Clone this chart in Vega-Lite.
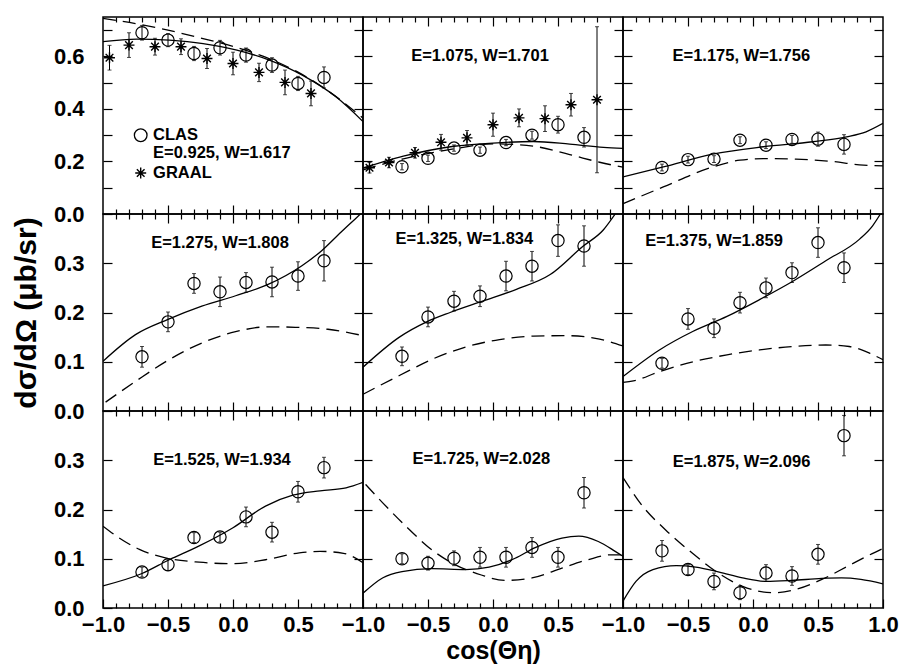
{
"$schema": "https://vega.github.io/schema/vega-lite/v6.json",
"padding": {"left": 10, "top": 15, "right": 5, "bottom": 0},
"background": "white",
"config": {
 "view": {"stroke": "black", "strokeWidth": 1.5},
 "axis": {"domain": false, "grid": false, "ticks": true, "tickColor": "black", "tickWidth": 1.2,
  "labelFont": "Liberation Sans", "labelFontSize": 22, "labelFontWeight": "bold", "labelColor": "black",
  "labelFlush": false, "labelOverlap": false, "labelBound": false,
  "titleFont": "Liberation Sans", "titleFontSize": 30, "titleFontWeight": "bold", "titleColor": "black"},
 "text": {"font": "Liberation Sans", "fontWeight": "bold", "fontSize": 16.5, "color": "black"}
},
"datasets": {
 "curves": [
  {"p":1,"m":"A","c":-1,"v":0.656},{"p":1,"m":"A","c":-0.74,"v":0.666},{"p":1,"m":"A","c":-0.49,"v":0.662},{"p":1,"m":"A","c":-0.23,"v":0.649},{"p":1,"m":"A","c":0.03,"v":0.624},{"p":1,"m":"A","c":0.28,"v":0.586},{"p":1,"m":"A","c":0.54,"v":0.527},{"p":1,"m":"A","c":0.79,"v":0.447},{"p":1,"m":"A","c":1,"v":0.352},
  {"p":1,"m":"B","c":-1,"v":0.745},{"p":1,"m":"B","c":-0.75,"v":0.725},{"p":1,"m":"B","c":-0.5,"v":0.7},{"p":1,"m":"B","c":-0.25,"v":0.67},{"p":1,"m":"B","c":0,"v":0.638},{"p":1,"m":"B","c":0.25,"v":0.597},{"p":1,"m":"B","c":0.5,"v":0.54},{"p":1,"m":"B","c":0.75,"v":0.462},{"p":1,"m":"B","c":1,"v":0.365},
  {"p":2,"m":"A","c":-1,"v":0.175},{"p":2,"m":"A","c":-0.69,"v":0.22},{"p":2,"m":"A","c":-0.3,"v":0.258},{"p":2,"m":"A","c":0,"v":0.27},{"p":2,"m":"A","c":0.31,"v":0.276},{"p":2,"m":"A","c":0.59,"v":0.266},{"p":2,"m":"A","c":0.85,"v":0.254},{"p":2,"m":"A","c":1,"v":0.25},
  {"p":2,"m":"B","c":-1,"v":0.168},{"p":2,"m":"B","c":-0.69,"v":0.21},{"p":2,"m":"B","c":-0.3,"v":0.248},{"p":2,"m":"B","c":0,"v":0.267},{"p":2,"m":"B","c":0.31,"v":0.258},{"p":2,"m":"B","c":0.59,"v":0.226},{"p":2,"m":"B","c":0.82,"v":0.197},{"p":2,"m":"B","c":1,"v":0.178},
  {"p":3,"m":"A","c":-1,"v":0.141},{"p":3,"m":"A","c":-0.69,"v":0.179},{"p":3,"m":"A","c":-0.31,"v":0.228},{"p":3,"m":"A","c":0.08,"v":0.256},{"p":3,"m":"A","c":0.46,"v":0.275},{"p":3,"m":"A","c":0.72,"v":0.294},{"p":3,"m":"A","c":0.87,"v":0.313},{"p":3,"m":"A","c":1,"v":0.345},
  {"p":3,"m":"B","c":-1,"v":0.039},{"p":3,"m":"B","c":-0.69,"v":0.103},{"p":3,"m":"B","c":-0.31,"v":0.179},{"p":3,"m":"B","c":-0.1,"v":0.205},{"p":3,"m":"B","c":0.08,"v":0.211},{"p":3,"m":"B","c":0.33,"v":0.209},{"p":3,"m":"B","c":0.59,"v":0.201},{"p":3,"m":"B","c":0.85,"v":0.186},{"p":3,"m":"B","c":1,"v":0.183},
  {"p":4,"m":"A","c":-1,"v":0.101},{"p":4,"m":"A","c":-0.75,"v":0.155},{"p":4,"m":"A","c":-0.5,"v":0.186},{"p":4,"m":"A","c":-0.24,"v":0.213},{"p":4,"m":"A","c":0.02,"v":0.234},{"p":4,"m":"A","c":0.27,"v":0.257},{"p":4,"m":"A","c":0.53,"v":0.295},{"p":4,"m":"A","c":0.68,"v":0.325},{"p":4,"m":"A","c":0.83,"v":0.363},{"p":4,"m":"A","c":0.94,"v":0.39},{"p":4,"m":"A","c":0.98,"v":0.4},
  {"p":4,"m":"B","c":-0.98,"v":0.018},{"p":4,"m":"B","c":-0.75,"v":0.06},{"p":4,"m":"B","c":-0.5,"v":0.103},{"p":4,"m":"B","c":-0.24,"v":0.138},{"p":4,"m":"B","c":0.02,"v":0.161},{"p":4,"m":"B","c":0.27,"v":0.171},{"p":4,"m":"B","c":0.48,"v":0.17},{"p":4,"m":"B","c":0.73,"v":0.166},{"p":4,"m":"B","c":1,"v":0.153},
  {"p":5,"m":"A","c":-1,"v":0.089},{"p":5,"m":"A","c":-0.72,"v":0.15},{"p":5,"m":"A","c":-0.51,"v":0.181},{"p":5,"m":"A","c":-0.33,"v":0.2},{"p":5,"m":"A","c":-0.08,"v":0.223},{"p":5,"m":"A","c":0.18,"v":0.247},{"p":5,"m":"A","c":0.44,"v":0.277},{"p":5,"m":"A","c":0.69,"v":0.334},{"p":5,"m":"A","c":0.85,"v":0.368},{"p":5,"m":"A","c":0.94,"v":0.4},
  {"p":5,"m":"B","c":-1,"v":0.034},{"p":5,"m":"B","c":-0.72,"v":0.072},{"p":5,"m":"B","c":-0.46,"v":0.106},{"p":5,"m":"B","c":-0.21,"v":0.13},{"p":5,"m":"B","c":0.05,"v":0.145},{"p":5,"m":"B","c":0.31,"v":0.152},{"p":5,"m":"B","c":0.56,"v":0.153},{"p":5,"m":"B","c":0.82,"v":0.146},{"p":5,"m":"B","c":1,"v":0.132},
  {"p":6,"m":"A","c":-1,"v":0.07},{"p":6,"m":"A","c":-0.72,"v":0.124},{"p":6,"m":"A","c":-0.46,"v":0.162},{"p":6,"m":"A","c":-0.2,"v":0.192},{"p":6,"m":"A","c":0.05,"v":0.226},{"p":6,"m":"A","c":0.31,"v":0.264},{"p":6,"m":"A","c":0.56,"v":0.305},{"p":6,"m":"A","c":0.82,"v":0.349},{"p":6,"m":"A","c":0.92,"v":0.376},{"p":6,"m":"A","c":0.98,"v":0.4},
  {"p":6,"m":"B","c":-1,"v":0.058},{"p":6,"m":"B","c":-0.92,"v":0.061},{"p":6,"m":"B","c":-0.72,"v":0.08},{"p":6,"m":"B","c":-0.46,"v":0.1},{"p":6,"m":"B","c":-0.2,"v":0.114},{"p":6,"m":"B","c":0.05,"v":0.124},{"p":6,"m":"B","c":0.31,"v":0.131},{"p":6,"m":"B","c":0.56,"v":0.134},{"p":6,"m":"B","c":0.74,"v":0.131},{"p":6,"m":"B","c":0.9,"v":0.117},{"p":6,"m":"B","c":1,"v":0.104},
  {"p":7,"m":"A","c":-1,"v":0.045},{"p":7,"m":"A","c":-0.7,"v":0.07},{"p":7,"m":"A","c":-0.49,"v":0.098},{"p":7,"m":"A","c":-0.26,"v":0.126},{"p":7,"m":"A","c":0,"v":0.163},{"p":7,"m":"A","c":0.25,"v":0.207},{"p":7,"m":"A","c":0.46,"v":0.229},{"p":7,"m":"A","c":0.67,"v":0.238},{"p":7,"m":"A","c":0.87,"v":0.244},{"p":7,"m":"A","c":1,"v":0.255},
  {"p":7,"m":"B","c":-1,"v":0.166},{"p":7,"m":"B","c":-0.88,"v":0.143},{"p":7,"m":"B","c":-0.72,"v":0.119},{"p":7,"m":"B","c":-0.52,"v":0.102},{"p":7,"m":"B","c":-0.26,"v":0.093},{"p":7,"m":"B","c":0,"v":0.09},{"p":7,"m":"B","c":0.25,"v":0.098},{"p":7,"m":"B","c":0.51,"v":0.112},{"p":7,"m":"B","c":0.67,"v":0.115},{"p":7,"m":"B","c":0.85,"v":0.111},{"p":7,"m":"B","c":1,"v":0.092},
  {"p":8,"m":"A","c":-1,"v":0.03},{"p":8,"m":"A","c":-0.85,"v":0.061},{"p":8,"m":"A","c":-0.7,"v":0.074},{"p":8,"m":"A","c":-0.47,"v":0.08},{"p":8,"m":"A","c":-0.21,"v":0.078},{"p":8,"m":"A","c":-0.03,"v":0.083},{"p":8,"m":"A","c":0.17,"v":0.101},{"p":8,"m":"A","c":0.32,"v":0.122},{"p":8,"m":"A","c":0.53,"v":0.142},{"p":8,"m":"A","c":0.66,"v":0.146},{"p":8,"m":"A","c":0.81,"v":0.135},{"p":8,"m":"A","c":0.94,"v":0.115},{"p":8,"m":"A","c":1,"v":0.105},
  {"p":8,"m":"B","c":-0.98,"v":0.251},{"p":8,"m":"B","c":-0.85,"v":0.214},{"p":8,"m":"B","c":-0.67,"v":0.166},{"p":8,"m":"B","c":-0.47,"v":0.118},{"p":8,"m":"B","c":-0.34,"v":0.095},{"p":8,"m":"B","c":-0.09,"v":0.067},{"p":8,"m":"B","c":0.09,"v":0.056},{"p":8,"m":"B","c":0.3,"v":0.061},{"p":8,"m":"B","c":0.53,"v":0.081},{"p":8,"m":"B","c":0.73,"v":0.098},{"p":8,"m":"B","c":0.91,"v":0.108},{"p":8,"m":"B","c":1,"v":0.108},
  {"p":9,"m":"A","c":-1,"v":0.014},{"p":9,"m":"A","c":-0.9,"v":0.054},{"p":9,"m":"A","c":-0.77,"v":0.078},{"p":9,"m":"A","c":-0.59,"v":0.086},{"p":9,"m":"A","c":-0.44,"v":0.083},{"p":9,"m":"A","c":-0.26,"v":0.073},{"p":9,"m":"A","c":-0.08,"v":0.061},{"p":9,"m":"A","c":0.1,"v":0.054},{"p":9,"m":"A","c":0.3,"v":0.056},{"p":9,"m":"A","c":0.53,"v":0.06},{"p":9,"m":"A","c":0.68,"v":0.061},{"p":9,"m":"A","c":0.83,"v":0.058},{"p":9,"m":"A","c":1,"v":0.049},
  {"p":9,"m":"B","c":-1,"v":0.265},{"p":9,"m":"B","c":-0.85,"v":0.207},{"p":9,"m":"B","c":-0.67,"v":0.158},{"p":9,"m":"B","c":-0.47,"v":0.112},{"p":9,"m":"B","c":-0.29,"v":0.075},{"p":9,"m":"B","c":-0.08,"v":0.044},{"p":9,"m":"B","c":0.15,"v":0.031},{"p":9,"m":"B","c":0.32,"v":0.037},{"p":9,"m":"B","c":0.53,"v":0.058},{"p":9,"m":"B","c":0.73,"v":0.085},{"p":9,"m":"B","c":0.89,"v":0.107},{"p":9,"m":"B","c":1,"v":0.121}
 ],
 "clas": [
  {"p":1,"c":-0.7,"v":0.69,"e":0.028},{"p":1,"c":-0.5,"v":0.662,"e":0.025},{"p":1,"c":-0.3,"v":0.611,"e":0.027},{"p":1,"c":-0.1,"v":0.633,"e":0.028},{"p":1,"c":0.1,"v":0.605,"e":0.027},{"p":1,"c":0.3,"v":0.567,"e":0.028},{"p":1,"c":0.5,"v":0.497,"e":0.027},{"p":1,"c":0.7,"v":0.52,"e":0.04},
  {"p":2,"c":-0.7,"v":0.18,"e":0.012},{"p":2,"c":-0.5,"v":0.212,"e":0.012},{"p":2,"c":-0.3,"v":0.251,"e":0.012},{"p":2,"c":-0.1,"v":0.243,"e":0.012},{"p":2,"c":0.1,"v":0.272,"e":0.012},{"p":2,"c":0.3,"v":0.3,"e":0.015},{"p":2,"c":0.5,"v":0.34,"e":0.032},{"p":2,"c":0.7,"v":0.292,"e":0.037},
  {"p":3,"c":-0.7,"v":0.177,"e":0.013},{"p":3,"c":-0.5,"v":0.207,"e":0.013},{"p":3,"c":-0.3,"v":0.209,"e":0.013},{"p":3,"c":-0.1,"v":0.281,"e":0.013},{"p":3,"c":0.1,"v":0.262,"e":0.013},{"p":3,"c":0.3,"v":0.284,"e":0.015},{"p":3,"c":0.5,"v":0.285,"e":0.027},{"p":3,"c":0.7,"v":0.265,"e":0.037},
  {"p":4,"c":-0.7,"v":0.11,"e":0.021},{"p":4,"c":-0.5,"v":0.181,"e":0.02},{"p":4,"c":-0.3,"v":0.259,"e":0.02},{"p":4,"c":-0.1,"v":0.242,"e":0.03},{"p":4,"c":0.1,"v":0.261,"e":0.02},{"p":4,"c":0.3,"v":0.262,"e":0.03},{"p":4,"c":0.5,"v":0.274,"e":0.029},{"p":4,"c":0.7,"v":0.305,"e":0.041},
  {"p":5,"c":-0.7,"v":0.111,"e":0.019},{"p":5,"c":-0.5,"v":0.191,"e":0.02},{"p":5,"c":-0.3,"v":0.223,"e":0.02},{"p":5,"c":-0.1,"v":0.233,"e":0.021},{"p":5,"c":0.1,"v":0.274,"e":0.03},{"p":5,"c":0.3,"v":0.294,"e":0.03},{"p":5,"c":0.5,"v":0.346,"e":0.032},{"p":5,"c":0.7,"v":0.335,"e":0.041},
  {"p":6,"c":-0.7,"v":0.097,"e":0.01},{"p":6,"c":-0.5,"v":0.187,"e":0.021},{"p":6,"c":-0.3,"v":0.168,"e":0.019},{"p":6,"c":-0.1,"v":0.22,"e":0.021},{"p":6,"c":0.1,"v":0.25,"e":0.02},{"p":6,"c":0.3,"v":0.281,"e":0.02},{"p":6,"c":0.5,"v":0.342,"e":0.03},{"p":6,"c":0.7,"v":0.291,"e":0.03},
  {"p":7,"c":-0.7,"v":0.073,"e":0.01},{"p":7,"c":-0.5,"v":0.088,"e":0.012},{"p":7,"c":-0.3,"v":0.143,"e":0.01},{"p":7,"c":-0.1,"v":0.144,"e":0.01},{"p":7,"c":0.1,"v":0.185,"e":0.02},{"p":7,"c":0.3,"v":0.154,"e":0.02},{"p":7,"c":0.5,"v":0.236,"e":0.021},{"p":7,"c":0.7,"v":0.285,"e":0.021},
  {"p":8,"c":-0.7,"v":0.1,"e":0.01},{"p":8,"c":-0.5,"v":0.091,"e":0.014},{"p":8,"c":-0.3,"v":0.101,"e":0.015},{"p":8,"c":-0.1,"v":0.103,"e":0.02},{"p":8,"c":0.1,"v":0.103,"e":0.02},{"p":8,"c":0.3,"v":0.123,"e":0.02},{"p":8,"c":0.5,"v":0.103,"e":0.02},{"p":8,"c":0.7,"v":0.234,"e":0.031},
  {"p":9,"c":-0.7,"v":0.116,"e":0.021},{"p":9,"c":-0.5,"v":0.078,"e":0.01},{"p":9,"c":-0.3,"v":0.054,"e":0.017},{"p":9,"c":-0.1,"v":0.031,"e":0.014},{"p":9,"c":0.1,"v":0.071,"e":0.017},{"p":9,"c":0.3,"v":0.065,"e":0.019},{"p":9,"c":0.5,"v":0.109,"e":0.02},{"p":9,"c":0.7,"v":0.35,"e":0.041}
 ],
 "graal": [
  {"p":1,"c":-0.95,"v":0.595,"e":0.047},{"p":1,"c":-0.8,"v":0.643,"e":0.047},{"p":1,"c":-0.6,"v":0.637,"e":0.032},{"p":1,"c":-0.4,"v":0.637,"e":0.03},{"p":1,"c":-0.2,"v":0.592,"e":0.038},{"p":1,"c":0,"v":0.573,"e":0.043},{"p":1,"c":0.2,"v":0.539,"e":0.035},{"p":1,"c":0.4,"v":0.501,"e":0.047},{"p":1,"c":0.6,"v":0.459,"e":0.047},
  {"p":2,"c":-0.95,"v":0.176,"e":0.02},{"p":2,"c":-0.8,"v":0.196,"e":0.02},{"p":2,"c":-0.6,"v":0.233,"e":0.02},{"p":2,"c":-0.4,"v":0.273,"e":0.03},{"p":2,"c":-0.2,"v":0.29,"e":0.028},{"p":2,"c":0,"v":0.34,"e":0.044},{"p":2,"c":0.2,"v":0.366,"e":0.034},{"p":2,"c":0.4,"v":0.363,"e":0.049},{"p":2,"c":0.6,"v":0.416,"e":0.043},{"p":2,"c":0.8,"v":0.435,"e":0.278}
 ],
 "labels": [
  {"p":1,"t":"E=0.925, W=1.617"},{"p":2,"t":"E=1.075, W=1.701"},{"p":3,"t":"E=1.175, W=1.756"},
  {"p":4,"t":"E=1.275, W=1.808"},{"p":5,"t":"E=1.325, W=1.834"},{"p":6,"t":"E=1.375, W=1.859"},
  {"p":7,"t":"E=1.525, W=1.934"},{"p":8,"t":"E=1.725, W=2.028"},{"p":9,"t":"E=1.875, W=2.096"}
 ],
 "legend": [{"k":"CLAS"},{"k":"GRAAL"}]
},
"concat": [
 {"width":260,"height":197,"layer":[
  {"data":{"name":"curves"},"transform":[{"filter":"datum.p==1 && datum.m=='A'"}],"mark":{"type":"line","color":"black","strokeWidth":1.3,"interpolate":"monotone","clip":true},
   "encoding":{"x":{"field":"c","type":"quantitative","scale":{"domain":[-1,1],"nice":false,"zero":false},"axis":{"orient":"bottom","values":[-0.5,0,0.5],"tickSize":-9,"labels":false,"title":null}},
    "y":{"field":"v","type":"quantitative","scale":{"domain":[0,0.75],"nice":false,"zero":false},"axis":{"orient":"left","values":[0,0.1,0.2,0.3,0.4,0.5,0.6,0.7],"format":".1f","labelExpr":"indexof(['0.0','0.2','0.4','0.6'], datum.label) >= 0 ? datum.label : ''","tickSize":-9,"labelPadding":28,"title":null}}}},
  {"data":{"name":"curves"},"transform":[{"filter":"datum.p==1 && datum.m=='B'"}],"mark":{"type":"line","color":"black","strokeWidth":1.3,"strokeDash":[13,7],"interpolate":"monotone","clip":true},
   "encoding":{"x":{"field":"c","type":"quantitative","scale":{"domain":[-1,1],"nice":false,"zero":false},"axis":{"orient":"top","values":[-0.5,0,0.5],"tickSize":-9,"labels":false,"title":null}},
    "y":{"field":"v","type":"quantitative","scale":{"domain":[0,0.75],"nice":false,"zero":false},"axis":{"orient":"right","values":[0.1,0.2,0.3,0.4,0.5,0.6,0.7],"tickSize":-9,"labels":false,"title":null}}}},
  {"data":{"name":"clas"},"transform":[{"filter":"datum.p==1"}],"mark":{"type":"errorbar","color":"black","thickness":1,"ticks":true,"size":4},
   "encoding":{"x":{"field":"c","type":"quantitative","scale":{"domain":[-1,1],"nice":false,"zero":false},"axis":{"orient":"bottom","values":[-0.9,-0.8,-0.7,-0.6,-0.4,-0.3,-0.2,-0.1,0.1,0.2,0.3,0.4,0.6,0.7,0.8,0.9],"tickSize":-5,"labels":false,"title":null}},
    "y":{"field":"v","type":"quantitative","scale":{"domain":[0,0.75],"nice":false,"zero":false},"axis":null},"yError":{"field":"e"}}},
  {"data":{"name":"clas"},"transform":[{"filter":"datum.p==1"}],"mark":{"type":"point","shape":"circle","filled":false,"size":150,"stroke":"black","strokeWidth":1.2,"opacity":1},
   "encoding":{"x":{"field":"c","type":"quantitative","scale":{"domain":[-1,1],"nice":false,"zero":false},"axis":{"orient":"top","values":[-0.9,-0.8,-0.7,-0.6,-0.4,-0.3,-0.2,-0.1,0.1,0.2,0.3,0.4,0.6,0.7,0.8,0.9],"tickSize":-5,"labels":false,"title":null}},
    "y":{"field":"v","type":"quantitative","scale":{"domain":[0,0.75],"nice":false,"zero":false},"axis":null}}},
  {"data":{"name":"graal"},"transform":[{"filter":"datum.p==1"}],"mark":{"type":"errorbar","color":"black","thickness":1,"ticks":true,"size":4},
   "encoding":{"x":{"field":"c","type":"quantitative","scale":{"domain":[-1,1],"nice":false,"zero":false},"axis":null},
    "y":{"field":"v","type":"quantitative","scale":{"domain":[0,0.75],"nice":false,"zero":false},"axis":null},"yError":{"field":"e"}}},
  {"data":{"name":"graal"},"transform":[{"filter":"datum.p==1"}],"mark":{"type":"point","shape":"M0,-1L0,1M-1,0L1,0M-0.7,-0.7L0.7,0.7M-0.7,0.7L0.7,-0.7","filled":false,"size":120,"stroke":"black","strokeWidth":1.4,"opacity":1},
   "encoding":{"x":{"field":"c","type":"quantitative","scale":{"domain":[-1,1],"nice":false,"zero":false},"axis":null},
    "y":{"field":"v","type":"quantitative","scale":{"domain":[0,0.75],"nice":false,"zero":false},"axis":null}}},
  {"data":{"name":"labels"},"transform":[{"filter":"datum.p==1"}],"mark":{"type":"text","align":"left","baseline":"middle"},
   "encoding":{"x":{"datum":-0.615,"type":"quantitative","scale":{"domain":[-1,1],"nice":false,"zero":false},"axis":null},"y":{"datum":0.232,"type":"quantitative","scale":{"domain":[0,0.75],"nice":false,"zero":false},"axis":null},"text":{"field":"t"}}},
  {"data":{"name":"legend"},"transform":[{"filter":"datum.k=='CLAS'"}],"mark":{"type":"text","align":"left","baseline":"middle"},
   "encoding":{"x":{"datum":-0.615,"type":"quantitative","scale":{"domain":[-1,1],"nice":false,"zero":false},"axis":null},"y":{"datum":0.3,"type":"quantitative","scale":{"domain":[0,0.75],"nice":false,"zero":false},"axis":null},"text":{"field":"k"}}},
  {"data":{"name":"legend"},"transform":[{"filter":"datum.k=='GRAAL'"}],"mark":{"type":"text","align":"left","baseline":"middle"},
   "encoding":{"x":{"datum":-0.615,"type":"quantitative","scale":{"domain":[-1,1],"nice":false,"zero":false},"axis":null},"y":{"datum":0.156,"type":"quantitative","scale":{"domain":[0,0.75],"nice":false,"zero":false},"axis":null},"text":{"field":"k"}}},
  {"data":{"name":"legend"},"transform":[{"filter":"datum.k=='CLAS'"}],"mark":{"type":"point","shape":"circle","filled":false,"size":160,"stroke":"black","strokeWidth":1.3,"opacity":1},
   "encoding":{"x":{"datum":-0.71,"type":"quantitative","scale":{"domain":[-1,1],"nice":false,"zero":false},"axis":null},"y":{"datum":0.3,"type":"quantitative","scale":{"domain":[0,0.75],"nice":false,"zero":false},"axis":null}}},
  {"data":{"name":"legend"},"transform":[{"filter":"datum.k=='GRAAL'"}],"mark":{"type":"point","shape":"M0,-1L0,1M-1,0L1,0M-0.7,-0.7L0.7,0.7M-0.7,0.7L0.7,-0.7","filled":false,"size":120,"stroke":"black","strokeWidth":1.4,"opacity":1},
   "encoding":{"x":{"datum":-0.71,"type":"quantitative","scale":{"domain":[-1,1],"nice":false,"zero":false},"axis":null},"y":{"datum":0.156,"type":"quantitative","scale":{"domain":[0,0.75],"nice":false,"zero":false},"axis":null}}}
 ],"resolve":{"axis":{"x":"independent","y":"independent"}}},

 {"width":260,"height":197,"layer":[
  {"data":{"name":"curves"},"transform":[{"filter":"datum.p==2 && datum.m=='A'"}],"mark":{"type":"line","color":"black","strokeWidth":1.3,"interpolate":"monotone","clip":true},
   "encoding":{"x":{"field":"c","type":"quantitative","scale":{"domain":[-1,1],"nice":false,"zero":false},"axis":{"orient":"bottom","values":[-0.5,0,0.5],"tickSize":-9,"labels":false,"title":null}},
    "y":{"field":"v","type":"quantitative","scale":{"domain":[0,0.75],"nice":false,"zero":false},"axis":{"orient":"left","values":[0.1,0.2,0.3,0.4,0.5,0.6,0.7],"tickSize":-9,"labels":false,"title":null}}}},
  {"data":{"name":"curves"},"transform":[{"filter":"datum.p==2 && datum.m=='B'"}],"mark":{"type":"line","color":"black","strokeWidth":1.3,"strokeDash":[13,7],"interpolate":"monotone","clip":true},
   "encoding":{"x":{"field":"c","type":"quantitative","scale":{"domain":[-1,1],"nice":false,"zero":false},"axis":{"orient":"top","values":[-0.5,0,0.5],"tickSize":-9,"labels":false,"title":null}},
    "y":{"field":"v","type":"quantitative","scale":{"domain":[0,0.75],"nice":false,"zero":false},"axis":{"orient":"right","values":[0.1,0.2,0.3,0.4,0.5,0.6,0.7],"tickSize":-9,"labels":false,"title":null}}}},
  {"data":{"name":"clas"},"transform":[{"filter":"datum.p==2"}],"mark":{"type":"errorbar","color":"black","thickness":1,"ticks":true,"size":4},
   "encoding":{"x":{"field":"c","type":"quantitative","scale":{"domain":[-1,1],"nice":false,"zero":false},"axis":{"orient":"bottom","values":[-0.9,-0.8,-0.7,-0.6,-0.4,-0.3,-0.2,-0.1,0.1,0.2,0.3,0.4,0.6,0.7,0.8,0.9],"tickSize":-5,"labels":false,"title":null}},
    "y":{"field":"v","type":"quantitative","scale":{"domain":[0,0.75],"nice":false,"zero":false},"axis":null},"yError":{"field":"e"}}},
  {"data":{"name":"clas"},"transform":[{"filter":"datum.p==2"}],"mark":{"type":"point","shape":"circle","filled":false,"size":150,"stroke":"black","strokeWidth":1.2,"opacity":1},
   "encoding":{"x":{"field":"c","type":"quantitative","scale":{"domain":[-1,1],"nice":false,"zero":false},"axis":{"orient":"top","values":[-0.9,-0.8,-0.7,-0.6,-0.4,-0.3,-0.2,-0.1,0.1,0.2,0.3,0.4,0.6,0.7,0.8,0.9],"tickSize":-5,"labels":false,"title":null}},
    "y":{"field":"v","type":"quantitative","scale":{"domain":[0,0.75],"nice":false,"zero":false},"axis":null}}},
  {"data":{"name":"graal"},"transform":[{"filter":"datum.p==2"}],"mark":{"type":"errorbar","color":"black","thickness":1,"ticks":true,"size":4},
   "encoding":{"x":{"field":"c","type":"quantitative","scale":{"domain":[-1,1],"nice":false,"zero":false},"axis":null},
    "y":{"field":"v","type":"quantitative","scale":{"domain":[0,0.75],"nice":false,"zero":false},"axis":null},"yError":{"field":"e"}}},
  {"data":{"name":"graal"},"transform":[{"filter":"datum.p==2"}],"mark":{"type":"point","shape":"M0,-1L0,1M-1,0L1,0M-0.7,-0.7L0.7,0.7M-0.7,0.7L0.7,-0.7","filled":false,"size":120,"stroke":"black","strokeWidth":1.4,"opacity":1},
   "encoding":{"x":{"field":"c","type":"quantitative","scale":{"domain":[-1,1],"nice":false,"zero":false},"axis":null},
    "y":{"field":"v","type":"quantitative","scale":{"domain":[0,0.75],"nice":false,"zero":false},"axis":null}}},
  {"data":{"name":"labels"},"transform":[{"filter":"datum.p==2"}],"mark":{"type":"text","align":"center","baseline":"middle"},
   "encoding":{"x":{"datum":-0.1,"type":"quantitative","scale":{"domain":[-1,1],"nice":false,"zero":false},"axis":null},"y":{"datum":0.6,"type":"quantitative","scale":{"domain":[0,0.75],"nice":false,"zero":false},"axis":null},"text":{"field":"t"}}}
 ],"resolve":{"axis":{"x":"independent","y":"independent"}}},

 {"width":260,"height":197,"layer":[
  {"data":{"name":"curves"},"transform":[{"filter":"datum.p==3 && datum.m=='A'"}],"mark":{"type":"line","color":"black","strokeWidth":1.3,"interpolate":"monotone","clip":true},
   "encoding":{"x":{"field":"c","type":"quantitative","scale":{"domain":[-1,1],"nice":false,"zero":false},"axis":{"orient":"bottom","values":[-0.5,0,0.5],"tickSize":-9,"labels":false,"title":null}},
    "y":{"field":"v","type":"quantitative","scale":{"domain":[0,0.75],"nice":false,"zero":false},"axis":{"orient":"left","values":[0.1,0.2,0.3,0.4,0.5,0.6,0.7],"tickSize":-9,"labels":false,"title":null}}}},
  {"data":{"name":"curves"},"transform":[{"filter":"datum.p==3 && datum.m=='B'"}],"mark":{"type":"line","color":"black","strokeWidth":1.3,"strokeDash":[13,7],"interpolate":"monotone","clip":true},
   "encoding":{"x":{"field":"c","type":"quantitative","scale":{"domain":[-1,1],"nice":false,"zero":false},"axis":{"orient":"top","values":[-0.5,0,0.5],"tickSize":-9,"labels":false,"title":null}},
    "y":{"field":"v","type":"quantitative","scale":{"domain":[0,0.75],"nice":false,"zero":false},"axis":{"orient":"right","values":[0.1,0.2,0.3,0.4,0.5,0.6,0.7],"tickSize":-9,"labels":false,"title":null}}}},
  {"data":{"name":"clas"},"transform":[{"filter":"datum.p==3"}],"mark":{"type":"errorbar","color":"black","thickness":1,"ticks":true,"size":4},
   "encoding":{"x":{"field":"c","type":"quantitative","scale":{"domain":[-1,1],"nice":false,"zero":false},"axis":{"orient":"bottom","values":[-0.9,-0.8,-0.7,-0.6,-0.4,-0.3,-0.2,-0.1,0.1,0.2,0.3,0.4,0.6,0.7,0.8,0.9],"tickSize":-5,"labels":false,"title":null}},
    "y":{"field":"v","type":"quantitative","scale":{"domain":[0,0.75],"nice":false,"zero":false},"axis":null},"yError":{"field":"e"}}},
  {"data":{"name":"clas"},"transform":[{"filter":"datum.p==3"}],"mark":{"type":"point","shape":"circle","filled":false,"size":150,"stroke":"black","strokeWidth":1.2,"opacity":1},
   "encoding":{"x":{"field":"c","type":"quantitative","scale":{"domain":[-1,1],"nice":false,"zero":false},"axis":{"orient":"top","values":[-0.9,-0.8,-0.7,-0.6,-0.4,-0.3,-0.2,-0.1,0.1,0.2,0.3,0.4,0.6,0.7,0.8,0.9],"tickSize":-5,"labels":false,"title":null}},
    "y":{"field":"v","type":"quantitative","scale":{"domain":[0,0.75],"nice":false,"zero":false},"axis":null}}},
  {"data":{"name":"labels"},"transform":[{"filter":"datum.p==3"}],"mark":{"type":"text","align":"center","baseline":"middle"},
   "encoding":{"x":{"datum":-0.09,"type":"quantitative","scale":{"domain":[-1,1],"nice":false,"zero":false},"axis":null},"y":{"datum":0.6,"type":"quantitative","scale":{"domain":[0,0.75],"nice":false,"zero":false},"axis":null},"text":{"field":"t"}}}
 ],"resolve":{"axis":{"x":"independent","y":"independent"}}},

 {"width":260,"height":197,"layer":[
  {"data":{"name":"curves"},"transform":[{"filter":"datum.p==4 && datum.m=='A'"}],"mark":{"type":"line","color":"black","strokeWidth":1.3,"interpolate":"monotone","clip":true},
   "encoding":{"x":{"field":"c","type":"quantitative","scale":{"domain":[-1,1],"nice":false,"zero":false},"axis":{"orient":"bottom","values":[-0.5,0,0.5],"tickSize":-9,"labels":false,"title":null}},
    "y":{"field":"v","type":"quantitative","scale":{"domain":[0,0.4],"nice":false,"zero":false},"axis":{"orient":"left","values":[0,0.1,0.2,0.3],"format":".1f","tickSize":-9,"labelPadding":28,"title":"dσ/dΩ (μb/sr)","titlePadding":12}}}},
  {"data":{"name":"curves"},"transform":[{"filter":"datum.p==4 && datum.m=='B'"}],"mark":{"type":"line","color":"black","strokeWidth":1.3,"strokeDash":[13,7],"interpolate":"monotone","clip":true},
   "encoding":{"x":{"field":"c","type":"quantitative","scale":{"domain":[-1,1],"nice":false,"zero":false},"axis":{"orient":"top","values":[-0.5,0,0.5],"tickSize":-9,"labels":false,"title":null}},
    "y":{"field":"v","type":"quantitative","scale":{"domain":[0,0.4],"nice":false,"zero":false},"axis":{"orient":"right","values":[0.1,0.2,0.3],"tickSize":-9,"labels":false,"title":null}}}},
  {"data":{"name":"clas"},"transform":[{"filter":"datum.p==4"}],"mark":{"type":"errorbar","color":"black","thickness":1,"ticks":true,"size":4},
   "encoding":{"x":{"field":"c","type":"quantitative","scale":{"domain":[-1,1],"nice":false,"zero":false},"axis":{"orient":"bottom","values":[-0.9,-0.8,-0.7,-0.6,-0.4,-0.3,-0.2,-0.1,0.1,0.2,0.3,0.4,0.6,0.7,0.8,0.9],"tickSize":-5,"labels":false,"title":null}},
    "y":{"field":"v","type":"quantitative","scale":{"domain":[0,0.4],"nice":false,"zero":false},"axis":null},"yError":{"field":"e"}}},
  {"data":{"name":"clas"},"transform":[{"filter":"datum.p==4"}],"mark":{"type":"point","shape":"circle","filled":false,"size":150,"stroke":"black","strokeWidth":1.2,"opacity":1},
   "encoding":{"x":{"field":"c","type":"quantitative","scale":{"domain":[-1,1],"nice":false,"zero":false},"axis":{"orient":"top","values":[-0.9,-0.8,-0.7,-0.6,-0.4,-0.3,-0.2,-0.1,0.1,0.2,0.3,0.4,0.6,0.7,0.8,0.9],"tickSize":-5,"labels":false,"title":null}},
    "y":{"field":"v","type":"quantitative","scale":{"domain":[0,0.4],"nice":false,"zero":false},"axis":null}}},
  {"data":{"name":"labels"},"transform":[{"filter":"datum.p==4"}],"mark":{"type":"text","align":"center","baseline":"middle"},
   "encoding":{"x":{"datum":-0.1,"type":"quantitative","scale":{"domain":[-1,1],"nice":false,"zero":false},"axis":null},"y":{"datum":0.342,"type":"quantitative","scale":{"domain":[0,0.4],"nice":false,"zero":false},"axis":null},"text":{"field":"t"}}}
 ],"resolve":{"axis":{"x":"independent","y":"independent"}}},

 {"width":260,"height":197,"layer":[
  {"data":{"name":"curves"},"transform":[{"filter":"datum.p==5 && datum.m=='A'"}],"mark":{"type":"line","color":"black","strokeWidth":1.3,"interpolate":"monotone","clip":true},
   "encoding":{"x":{"field":"c","type":"quantitative","scale":{"domain":[-1,1],"nice":false,"zero":false},"axis":{"orient":"bottom","values":[-0.5,0,0.5],"tickSize":-9,"labels":false,"title":null}},
    "y":{"field":"v","type":"quantitative","scale":{"domain":[0,0.4],"nice":false,"zero":false},"axis":{"orient":"left","values":[0.1,0.2,0.3],"tickSize":-9,"labels":false,"title":null}}}},
  {"data":{"name":"curves"},"transform":[{"filter":"datum.p==5 && datum.m=='B'"}],"mark":{"type":"line","color":"black","strokeWidth":1.3,"strokeDash":[13,7],"interpolate":"monotone","clip":true},
   "encoding":{"x":{"field":"c","type":"quantitative","scale":{"domain":[-1,1],"nice":false,"zero":false},"axis":{"orient":"top","values":[-0.5,0,0.5],"tickSize":-9,"labels":false,"title":null}},
    "y":{"field":"v","type":"quantitative","scale":{"domain":[0,0.4],"nice":false,"zero":false},"axis":{"orient":"right","values":[0.1,0.2,0.3],"tickSize":-9,"labels":false,"title":null}}}},
  {"data":{"name":"clas"},"transform":[{"filter":"datum.p==5"}],"mark":{"type":"errorbar","color":"black","thickness":1,"ticks":true,"size":4},
   "encoding":{"x":{"field":"c","type":"quantitative","scale":{"domain":[-1,1],"nice":false,"zero":false},"axis":{"orient":"bottom","values":[-0.9,-0.8,-0.7,-0.6,-0.4,-0.3,-0.2,-0.1,0.1,0.2,0.3,0.4,0.6,0.7,0.8,0.9],"tickSize":-5,"labels":false,"title":null}},
    "y":{"field":"v","type":"quantitative","scale":{"domain":[0,0.4],"nice":false,"zero":false},"axis":null},"yError":{"field":"e"}}},
  {"data":{"name":"clas"},"transform":[{"filter":"datum.p==5"}],"mark":{"type":"point","shape":"circle","filled":false,"size":150,"stroke":"black","strokeWidth":1.2,"opacity":1},
   "encoding":{"x":{"field":"c","type":"quantitative","scale":{"domain":[-1,1],"nice":false,"zero":false},"axis":{"orient":"top","values":[-0.9,-0.8,-0.7,-0.6,-0.4,-0.3,-0.2,-0.1,0.1,0.2,0.3,0.4,0.6,0.7,0.8,0.9],"tickSize":-5,"labels":false,"title":null}},
    "y":{"field":"v","type":"quantitative","scale":{"domain":[0,0.4],"nice":false,"zero":false},"axis":null}}},
  {"data":{"name":"labels"},"transform":[{"filter":"datum.p==5"}],"mark":{"type":"text","align":"center","baseline":"middle"},
   "encoding":{"x":{"datum":-0.22,"type":"quantitative","scale":{"domain":[-1,1],"nice":false,"zero":false},"axis":null},"y":{"datum":0.35,"type":"quantitative","scale":{"domain":[0,0.4],"nice":false,"zero":false},"axis":null},"text":{"field":"t"}}}
 ],"resolve":{"axis":{"x":"independent","y":"independent"}}},

 {"width":260,"height":197,"layer":[
  {"data":{"name":"curves"},"transform":[{"filter":"datum.p==6 && datum.m=='A'"}],"mark":{"type":"line","color":"black","strokeWidth":1.3,"interpolate":"monotone","clip":true},
   "encoding":{"x":{"field":"c","type":"quantitative","scale":{"domain":[-1,1],"nice":false,"zero":false},"axis":{"orient":"bottom","values":[-0.5,0,0.5],"tickSize":-9,"labels":false,"title":null}},
    "y":{"field":"v","type":"quantitative","scale":{"domain":[0,0.4],"nice":false,"zero":false},"axis":{"orient":"left","values":[0.1,0.2,0.3],"tickSize":-9,"labels":false,"title":null}}}},
  {"data":{"name":"curves"},"transform":[{"filter":"datum.p==6 && datum.m=='B'"}],"mark":{"type":"line","color":"black","strokeWidth":1.3,"strokeDash":[13,7],"interpolate":"monotone","clip":true},
   "encoding":{"x":{"field":"c","type":"quantitative","scale":{"domain":[-1,1],"nice":false,"zero":false},"axis":{"orient":"top","values":[-0.5,0,0.5],"tickSize":-9,"labels":false,"title":null}},
    "y":{"field":"v","type":"quantitative","scale":{"domain":[0,0.4],"nice":false,"zero":false},"axis":{"orient":"right","values":[0.1,0.2,0.3],"tickSize":-9,"labels":false,"title":null}}}},
  {"data":{"name":"clas"},"transform":[{"filter":"datum.p==6"}],"mark":{"type":"errorbar","color":"black","thickness":1,"ticks":true,"size":4},
   "encoding":{"x":{"field":"c","type":"quantitative","scale":{"domain":[-1,1],"nice":false,"zero":false},"axis":{"orient":"bottom","values":[-0.9,-0.8,-0.7,-0.6,-0.4,-0.3,-0.2,-0.1,0.1,0.2,0.3,0.4,0.6,0.7,0.8,0.9],"tickSize":-5,"labels":false,"title":null}},
    "y":{"field":"v","type":"quantitative","scale":{"domain":[0,0.4],"nice":false,"zero":false},"axis":null},"yError":{"field":"e"}}},
  {"data":{"name":"clas"},"transform":[{"filter":"datum.p==6"}],"mark":{"type":"point","shape":"circle","filled":false,"size":150,"stroke":"black","strokeWidth":1.2,"opacity":1},
   "encoding":{"x":{"field":"c","type":"quantitative","scale":{"domain":[-1,1],"nice":false,"zero":false},"axis":{"orient":"top","values":[-0.9,-0.8,-0.7,-0.6,-0.4,-0.3,-0.2,-0.1,0.1,0.2,0.3,0.4,0.6,0.7,0.8,0.9],"tickSize":-5,"labels":false,"title":null}},
    "y":{"field":"v","type":"quantitative","scale":{"domain":[0,0.4],"nice":false,"zero":false},"axis":null}}},
  {"data":{"name":"labels"},"transform":[{"filter":"datum.p==6"}],"mark":{"type":"text","align":"center","baseline":"middle"},
   "encoding":{"x":{"datum":-0.3,"type":"quantitative","scale":{"domain":[-1,1],"nice":false,"zero":false},"axis":null},"y":{"datum":0.346,"type":"quantitative","scale":{"domain":[0,0.4],"nice":false,"zero":false},"axis":null},"text":{"field":"t"}}}
 ],"resolve":{"axis":{"x":"independent","y":"independent"}}},

 {"width":260,"height":197,"layer":[
  {"data":{"name":"curves"},"transform":[{"filter":"datum.p==7 && datum.m=='A'"}],"mark":{"type":"line","color":"black","strokeWidth":1.3,"interpolate":"monotone","clip":true},
   "encoding":{"x":{"field":"c","type":"quantitative","scale":{"domain":[-1,1],"nice":false,"zero":false},"axis":{"orient":"bottom","values":[-1,-0.5,0,0.5],"format":".1f","tickSize":-9,"labelPadding":15,"title":null}},
    "y":{"field":"v","type":"quantitative","scale":{"domain":[0,0.4],"nice":false,"zero":false},"axis":{"orient":"left","values":[0,0.1,0.2,0.3],"format":".1f","tickSize":-9,"labelPadding":28,"title":null}}}},
  {"data":{"name":"curves"},"transform":[{"filter":"datum.p==7 && datum.m=='B'"}],"mark":{"type":"line","color":"black","strokeWidth":1.3,"strokeDash":[13,7],"interpolate":"monotone","clip":true},
   "encoding":{"x":{"field":"c","type":"quantitative","scale":{"domain":[-1,1],"nice":false,"zero":false},"axis":{"orient":"top","values":[-0.5,0,0.5],"tickSize":-9,"labels":false,"title":null}},
    "y":{"field":"v","type":"quantitative","scale":{"domain":[0,0.4],"nice":false,"zero":false},"axis":{"orient":"right","values":[0.1,0.2,0.3],"tickSize":-9,"labels":false,"title":null}}}},
  {"data":{"name":"clas"},"transform":[{"filter":"datum.p==7"}],"mark":{"type":"errorbar","color":"black","thickness":1,"ticks":true,"size":4},
   "encoding":{"x":{"field":"c","type":"quantitative","scale":{"domain":[-1,1],"nice":false,"zero":false},"axis":{"orient":"bottom","values":[-0.9,-0.8,-0.7,-0.6,-0.4,-0.3,-0.2,-0.1,0.1,0.2,0.3,0.4,0.6,0.7,0.8,0.9],"tickSize":-5,"labels":false,"title":null}},
    "y":{"field":"v","type":"quantitative","scale":{"domain":[0,0.4],"nice":false,"zero":false},"axis":null},"yError":{"field":"e"}}},
  {"data":{"name":"clas"},"transform":[{"filter":"datum.p==7"}],"mark":{"type":"point","shape":"circle","filled":false,"size":150,"stroke":"black","strokeWidth":1.2,"opacity":1},
   "encoding":{"x":{"field":"c","type":"quantitative","scale":{"domain":[-1,1],"nice":false,"zero":false},"axis":{"orient":"top","values":[-0.9,-0.8,-0.7,-0.6,-0.4,-0.3,-0.2,-0.1,0.1,0.2,0.3,0.4,0.6,0.7,0.8,0.9],"tickSize":-5,"labels":false,"title":null}},
    "y":{"field":"v","type":"quantitative","scale":{"domain":[0,0.4],"nice":false,"zero":false},"axis":null}}},
  {"data":{"name":"labels"},"transform":[{"filter":"datum.p==7"}],"mark":{"type":"text","align":"center","baseline":"middle"},
   "encoding":{"x":{"datum":-0.085,"type":"quantitative","scale":{"domain":[-1,1],"nice":false,"zero":false},"axis":null},"y":{"datum":0.3,"type":"quantitative","scale":{"domain":[0,0.4],"nice":false,"zero":false},"axis":null},"text":{"field":"t"}}}
 ],"resolve":{"axis":{"x":"independent","y":"independent"}}},

 {"width":260,"height":197,"layer":[
  {"data":{"name":"curves"},"transform":[{"filter":"datum.p==8 && datum.m=='A'"}],"mark":{"type":"line","color":"black","strokeWidth":1.3,"interpolate":"monotone","clip":true},
   "encoding":{"x":{"field":"c","type":"quantitative","scale":{"domain":[-1,1],"nice":false,"zero":false},"axis":{"orient":"bottom","values":[-1,-0.5,0,0.5],"format":".1f","tickSize":-9,"labelPadding":15,"title":"cos(Θη)","titlePadding":3,"titleFontSize":25}},
    "y":{"field":"v","type":"quantitative","scale":{"domain":[0,0.4],"nice":false,"zero":false},"axis":{"orient":"left","values":[0.1,0.2,0.3],"tickSize":-9,"labels":false,"title":null}}}},
  {"data":{"name":"curves"},"transform":[{"filter":"datum.p==8 && datum.m=='B'"}],"mark":{"type":"line","color":"black","strokeWidth":1.3,"strokeDash":[13,7],"interpolate":"monotone","clip":true},
   "encoding":{"x":{"field":"c","type":"quantitative","scale":{"domain":[-1,1],"nice":false,"zero":false},"axis":{"orient":"top","values":[-0.5,0,0.5],"tickSize":-9,"labels":false,"title":null}},
    "y":{"field":"v","type":"quantitative","scale":{"domain":[0,0.4],"nice":false,"zero":false},"axis":{"orient":"right","values":[0.1,0.2,0.3],"tickSize":-9,"labels":false,"title":null}}}},
  {"data":{"name":"clas"},"transform":[{"filter":"datum.p==8"}],"mark":{"type":"errorbar","color":"black","thickness":1,"ticks":true,"size":4},
   "encoding":{"x":{"field":"c","type":"quantitative","scale":{"domain":[-1,1],"nice":false,"zero":false},"axis":{"orient":"bottom","values":[-0.9,-0.8,-0.7,-0.6,-0.4,-0.3,-0.2,-0.1,0.1,0.2,0.3,0.4,0.6,0.7,0.8,0.9],"tickSize":-5,"labels":false,"title":null}},
    "y":{"field":"v","type":"quantitative","scale":{"domain":[0,0.4],"nice":false,"zero":false},"axis":null},"yError":{"field":"e"}}},
  {"data":{"name":"clas"},"transform":[{"filter":"datum.p==8"}],"mark":{"type":"point","shape":"circle","filled":false,"size":150,"stroke":"black","strokeWidth":1.2,"opacity":1},
   "encoding":{"x":{"field":"c","type":"quantitative","scale":{"domain":[-1,1],"nice":false,"zero":false},"axis":{"orient":"top","values":[-0.9,-0.8,-0.7,-0.6,-0.4,-0.3,-0.2,-0.1,0.1,0.2,0.3,0.4,0.6,0.7,0.8,0.9],"tickSize":-5,"labels":false,"title":null}},
    "y":{"field":"v","type":"quantitative","scale":{"domain":[0,0.4],"nice":false,"zero":false},"axis":null}}},
  {"data":{"name":"labels"},"transform":[{"filter":"datum.p==8"}],"mark":{"type":"text","align":"center","baseline":"middle"},
   "encoding":{"x":{"datum":-0.09,"type":"quantitative","scale":{"domain":[-1,1],"nice":false,"zero":false},"axis":null},"y":{"datum":0.302,"type":"quantitative","scale":{"domain":[0,0.4],"nice":false,"zero":false},"axis":null},"text":{"field":"t"}}}
 ],"resolve":{"axis":{"x":"independent","y":"independent"}}},

 {"width":260,"height":197,"layer":[
  {"data":{"name":"curves"},"transform":[{"filter":"datum.p==9 && datum.m=='A'"}],"mark":{"type":"line","color":"black","strokeWidth":1.3,"interpolate":"monotone","clip":true},
   "encoding":{"x":{"field":"c","type":"quantitative","scale":{"domain":[-1,1],"nice":false,"zero":false},"axis":{"orient":"bottom","values":[-1,-0.5,0,0.5,1],"format":".1f","tickSize":-9,"labelPadding":15,"title":null}},
    "y":{"field":"v","type":"quantitative","scale":{"domain":[0,0.4],"nice":false,"zero":false},"axis":{"orient":"left","values":[0.1,0.2,0.3],"tickSize":-9,"labels":false,"title":null}}}},
  {"data":{"name":"curves"},"transform":[{"filter":"datum.p==9 && datum.m=='B'"}],"mark":{"type":"line","color":"black","strokeWidth":1.3,"strokeDash":[13,7],"interpolate":"monotone","clip":true},
   "encoding":{"x":{"field":"c","type":"quantitative","scale":{"domain":[-1,1],"nice":false,"zero":false},"axis":{"orient":"top","values":[-0.5,0,0.5],"tickSize":-9,"labels":false,"title":null}},
    "y":{"field":"v","type":"quantitative","scale":{"domain":[0,0.4],"nice":false,"zero":false},"axis":{"orient":"right","values":[0.1,0.2,0.3],"tickSize":-9,"labels":false,"title":null}}}},
  {"data":{"name":"clas"},"transform":[{"filter":"datum.p==9"}],"mark":{"type":"errorbar","color":"black","thickness":1,"ticks":true,"size":4},
   "encoding":{"x":{"field":"c","type":"quantitative","scale":{"domain":[-1,1],"nice":false,"zero":false},"axis":{"orient":"bottom","values":[-0.9,-0.8,-0.7,-0.6,-0.4,-0.3,-0.2,-0.1,0.1,0.2,0.3,0.4,0.6,0.7,0.8,0.9],"tickSize":-5,"labels":false,"title":null}},
    "y":{"field":"v","type":"quantitative","scale":{"domain":[0,0.4],"nice":false,"zero":false},"axis":null},"yError":{"field":"e"}}},
  {"data":{"name":"clas"},"transform":[{"filter":"datum.p==9"}],"mark":{"type":"point","shape":"circle","filled":false,"size":150,"stroke":"black","strokeWidth":1.2,"opacity":1},
   "encoding":{"x":{"field":"c","type":"quantitative","scale":{"domain":[-1,1],"nice":false,"zero":false},"axis":{"orient":"top","values":[-0.9,-0.8,-0.7,-0.6,-0.4,-0.3,-0.2,-0.1,0.1,0.2,0.3,0.4,0.6,0.7,0.8,0.9],"tickSize":-5,"labels":false,"title":null}},
    "y":{"field":"v","type":"quantitative","scale":{"domain":[0,0.4],"nice":false,"zero":false},"axis":null}}},
  {"data":{"name":"labels"},"transform":[{"filter":"datum.p==9"}],"mark":{"type":"text","align":"center","baseline":"middle"},
   "encoding":{"x":{"datum":-0.088,"type":"quantitative","scale":{"domain":[-1,1],"nice":false,"zero":false},"axis":null},"y":{"datum":0.296,"type":"quantitative","scale":{"domain":[0,0.4],"nice":false,"zero":false},"axis":null},"text":{"field":"t"}}}
 ],"resolve":{"axis":{"x":"independent","y":"independent"}}}
],
"columns": 3,
"spacing": 0,
"bounds": "flush"
}
